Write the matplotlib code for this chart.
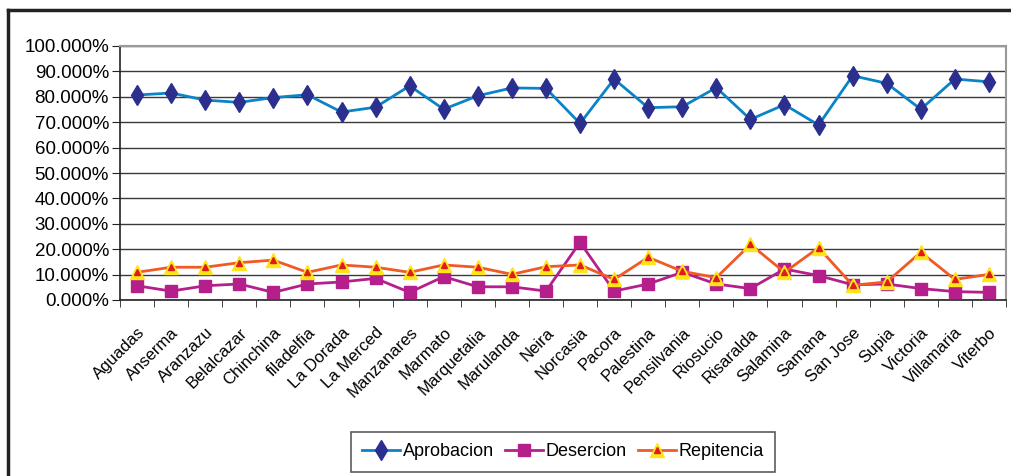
import matplotlib
matplotlib.use("Agg")
import matplotlib.pyplot as plt
import numpy as np
from matplotlib.lines import Line2D
from matplotlib.legend_handler import HandlerTuple
from matplotlib.ticker import FuncFormatter, MultipleLocator, FixedLocator

plt.rcParams['font.family'] = ['Liberation Sans', 'DejaVu Sans']

municipios = ["Aguadas", "Anserma", "Aranzazu", "Belalcazar", "Chinchina", "filadelfia",
              "La Dorada", "La Merced", "Manzanares", "Marmato", "Marquetalia", "Marulanda",
              "Neira", "Norcasia", "Pacora", "Palestina", "Pensilvania", "Riosucio",
              "Risaralda", "Salamina", "Samana", "San Jose", "Supia", "Victoria",
              "Villamaria", "Viterbo"]

aprobacion = [80.7, 81.5, 78.7, 77.8, 79.7, 80.8, 74.0, 75.9, 84.3, 75.1, 80.4, 83.5,
              83.3, 69.5, 87.0, 75.7, 76.1, 83.6, 71.1, 76.9, 68.9, 88.3, 85.3, 75.1,
              87.0, 85.9]
desercion = [5.6, 3.5, 5.6, 6.3, 3.0, 6.3, 7.1, 8.5, 3.0, 9.2, 5.2, 5.2,
             3.5, 22.7, 3.5, 6.3, 10.9, 6.3, 4.5, 12.2, 9.6, 6.0, 6.3, 4.5,
             3.3, 3.0]
repitencia = [10.9, 12.9, 12.9, 14.7, 15.7, 10.9, 13.8, 12.9, 10.9, 13.8, 12.9, 10.1,
              13.1, 13.8, 8.1, 16.8, 11.3, 8.8, 21.9, 10.9, 20.6, 5.8, 7.1, 18.8,
              8.1, 10.1]

W, H = 1012, 476
fig = plt.figure(figsize=(W / 100, H / 100), dpi=100)
ax = fig.add_axes([120 / W, 1 - 300 / H, (1006 - 120) / W, (300 - 46) / H])

x = np.arange(len(municipios))

c_apr_line, c_apr_mk = "#0A84C6", "#2B2F8E"
c_des = "#B51F8C"
c_rep_line, c_rep_face, c_rep_in = "#F15A24", "#FFE419", "#E01B1B"

ax.plot(x, aprobacion, color=c_apr_line, lw=2, marker="d", ms=10,
        mfc=c_apr_mk, mec=c_apr_mk, zorder=4)
ax.plot(x, desercion, color=c_des, lw=2, marker="s", ms=8,
        mfc=c_des, mec=c_des, zorder=4)
ax.plot(x, repitencia, color=c_rep_line, lw=2, marker="^", ms=9.5,
        mfc=c_rep_face, mec=c_rep_face, zorder=5)
ax.plot(x, repitencia, ls="none", marker="^", ms=4.5,
        mfc=c_rep_in, mec=c_rep_in, zorder=6)

ax.set_xlim(-0.5, len(municipios) - 0.5)
ax.set_ylim(0, 100)
ax.yaxis.set_major_locator(MultipleLocator(10))
ax.yaxis.set_major_formatter(FuncFormatter(lambda v, p: f"{v:.3f}%"))
ax.grid(axis="y", color="#3a3a3a", lw=1)
ax.set_axisbelow(True)

ax.set_xticks(x)
ax.set_xticklabels(municipios, rotation=45, ha="right", va="top",
                   rotation_mode="anchor", fontsize=12)
ax.xaxis.set_minor_locator(FixedLocator(np.arange(-0.5, len(municipios), 1)))
ax.tick_params(axis="x", which="major", length=0, pad=18)
ax.tick_params(axis="x", which="minor", length=5, direction="out", color="#222")
ax.tick_params(axis="y", length=6, direction="out", labelsize=13.5, pad=2, color="#222")

for s in ["top", "right"]:
    ax.spines[s].set_color("#999999")
    ax.spines[s].set_linewidth(1.5)
for s in ["left", "bottom"]:
    ax.spines[s].set_color("#222222")
    ax.spines[s].set_linewidth(1.2)

h1 = Line2D([], [], color=c_apr_line, lw=2, marker="d", ms=10, mfc=c_apr_mk, mec=c_apr_mk)
h2 = Line2D([], [], color=c_des, lw=2, marker="s", ms=8, mfc=c_des, mec=c_des)
h3a = Line2D([], [], color=c_rep_line, lw=2, marker="^", ms=9.5, mfc=c_rep_face, mec=c_rep_face)
h3b = Line2D([], [], ls="none", marker="^", ms=4.5, mfc=c_rep_in, mec=c_rep_in)
leg = fig.legend([h1, h2, (h3a, h3b)], ["Aprobacion", "Desercion", "Repitencia"],
                 handler_map={tuple: HandlerTuple(ndivide=1, pad=0)},
                 loc="center", bbox_to_anchor=(563 / W, 1 - 452 / H), ncol=3,
                 fontsize=13, frameon=True, fancybox=False, edgecolor="#333333",
                 handlelength=2.1, handletextpad=0.15, columnspacing=0.6,
                 borderpad=0.65, borderaxespad=0)
leg.get_frame().set_linewidth(1.2)

# outer chart frame (top and left edges visible)
fig.add_artist(Line2D([8 / W, 1.0], [1 - 10 / H, 1 - 10 / H], transform=fig.transFigure,
                      color="#222222", lw=2.5))
fig.add_artist(Line2D([8 / W, 8 / W], [0.0, 1 - 10 / H], transform=fig.transFigure,
                      color="#222222", lw=2.5))

fig.savefig("out.png", dpi=100)
